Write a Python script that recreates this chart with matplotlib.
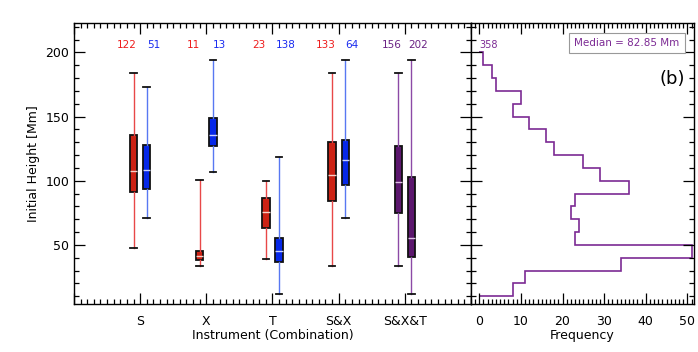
import numpy as np
import matplotlib
matplotlib.use("Agg")
import matplotlib.pyplot as plt
from matplotlib.ticker import MultipleLocator

# ---------------- data ----------------
groups = ["S", "X", "T", "S&X", "S&X&T"]
# per box: group index, side offset, counts, whisker low, q1, median, q3, whisker high
box_group = [1, 1, 2, 2, 3, 3, 4, 4, 5, 5]
box_side = [-1, 1, -1, 1, -1, 1, -1, 1, -1, 1]
box_count = [122, 51, 11, 13, 23, 138, 133, 64, 156, 202]
box_wlo = [47.8, 71.1, 33.4, 107.0, 39.4, 12.0, 33.4, 71.1, 33.4, 12.0]
box_q1 = [91.0, 93.8, 38.6, 127.1, 63.6, 37.0, 84.2, 96.9, 75.0, 40.5]
box_med = [107.3, 108.4, 41.2, 135.7, 75.8, 45.3, 104.2, 116.2, 99.0, 55.6]
box_q3 = [135.5, 127.7, 45.3, 149.0, 86.7, 55.8, 130.5, 131.6, 127.3, 102.9]
box_whi = [184.4, 173.0, 101.0, 193.8, 99.8, 118.8, 184.4, 193.8, 184.4, 193.8]
box_kind = ["r", "b", "r", "b", "r", "b", "r", "b", "p", "p"]

# histogram of all heights (bins of 10 Mm, from 10 to 200)
hist_edges = np.arange(10, 201, 10)
hist_counts = [8, 11, 34, 51, 23, 24, 22, 23, 36, 29, 25, 18, 16, 12, 8, 10, 4, 3, 1]
median_all = 82.85

fill = {"r": "#cc2214", "b": "#0628e8", "p": "#5c176e"}
wcol = {"r": "#e84848", "b": "#5878f2", "p": "#8c4aa6"}
mcol = {"r": "#f6d0c8", "b": "#c8d0ff", "p": "#dcc0e4"}
tcol = {"r": "#ee1c1c", "b": "#1a2cf0", "p": "#6a2384"}
hcol = "#7c2a94"

plt.rcParams["font.family"] = "DejaVu Sans"
plt.rcParams["font.size"] = 9

fig = plt.figure(figsize=(6.98, 3.52), dpi=100)
ax = fig.add_axes([0.106, 0.1364, 0.5688, 0.7983])
ax2 = fig.add_axes([0.6748, 0.1364, 0.3195, 0.7983], sharey=ax)

# ---------------- box plots ----------------
off = 0.1
for i in range(len(box_count)):
    k = box_kind[i]
    pos = box_group[i] + box_side[i] * off
    st = [dict(whislo=box_wlo[i], q1=box_q1[i], med=box_med[i],
               q3=box_q3[i], whishi=box_whi[i], fliers=[])]
    ax.bxp(st, positions=[pos], widths=0.11, patch_artist=True, showfliers=False,
           boxprops=dict(facecolor=fill[k], edgecolor="#111111", linewidth=1.3),
           whiskerprops=dict(color=wcol[k], linewidth=1.0),
           capprops=dict(color="#111111", linewidth=1.3),
           medianprops=dict(color=mcol[k], linewidth=1.0),
           capwidths=0.1, zorder=3)
    ax.text(box_group[i] + box_side[i] * 0.2, 206, str(box_count[i]),
            color=tcol[k], fontsize=7.5, ha="center", va="center")

ax.set_xlim(0, 6)
ax.set_ylim(4, 223)
ax.set_xticks([0, 1, 2, 3, 4, 5, 6])
ax.set_xticklabels([""] + groups + [""])
ax.xaxis.set_minor_locator(MultipleLocator(0.1))
ax.yaxis.set_minor_locator(MultipleLocator(10))
ax.set_yticks([50, 100, 150, 200])
ax.set_xlabel("Instrument (Combination)", labelpad=1)
ax.set_ylabel("Initial Height [Mm]")

# ---------------- histogram ----------------
ax2.stairs(hist_counts, hist_edges, orientation="horizontal", baseline=0,
           color=hcol, linewidth=1.2)
ax2.text(0, 206, "358", color=hcol, fontsize=7, ha="left", va="center")
ax2.text(0.70, 0.929, "Median = %.2f Mm" % median_all, transform=ax2.transAxes,
         color=hcol, fontsize=7.5, ha="center", va="center",
         bbox=dict(boxstyle="square,pad=0.5", facecolor="white", edgecolor="#999999", linewidth=0.8))
ax2.text(0.96, 0.80, "(b)", transform=ax2.transAxes, fontsize=13, ha="right", va="center")
ax2.set_xlim(-2, 51.6)
ax2.xaxis.set_major_locator(MultipleLocator(10))
ax2.xaxis.set_minor_locator(MultipleLocator(1))
ax2.set_xlabel("Frequency", labelpad=1)
plt.setp(ax2.get_yticklabels(), visible=False)

for a in (ax, ax2):
    a.tick_params(which="both", direction="in", top=True, right=True, width=0.9)
    a.tick_params(which="major", length=8)
    a.tick_params(which="minor", length=3.5)
    for s in a.spines.values():
        s.set_linewidth(1.0)
ax.tick_params(axis="x", which="major", pad=8)
ax2.tick_params(axis="x", which="major", pad=8)

fig.savefig("out.png", dpi=100)
